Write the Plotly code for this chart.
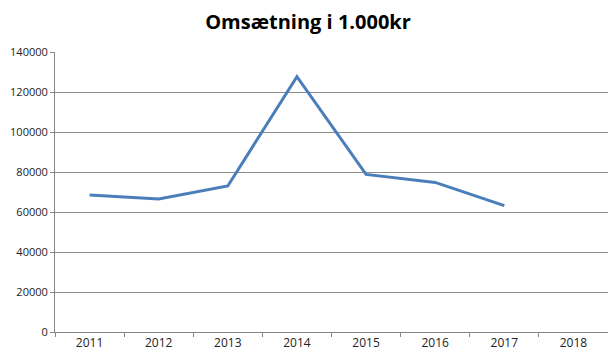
import plotly.graph_objects as go

years = ["2011", "2012", "2013", "2014", "2015", "2016", "2017", "2018"]
omsaetning = [68500, 66500, 73000, 127700, 78800, 74800, 63200, None]
y_ticks = [0, 20000, 40000, 60000, 80000, 100000, 120000, 140000]

fig = go.Figure()
fig.add_trace(go.Scatter(
    x=years, y=omsaetning, mode="lines",
    line=dict(color="#4A7EBB", width=3),
    connectgaps=False, showlegend=False,
))

fig.update_layout(
    width=600, height=345,
    margin=dict(l=47, r=0, t=44, b=21, autoexpand=False),
    paper_bgcolor="white", plot_bgcolor="white",
    title=dict(text="<b>Omsætning i 1.000kr</b>", x=0.5, xanchor="center",
               yref="container", y=0.96, yanchor="middle",
               font=dict(family="Open Sans", size=20, color="#000000")),
    font=dict(family="Open Sans", size=12, color="#222222"),
)
fig.update_xaxes(
    type="category", categoryorder="array", categoryarray=years,
    range=[-0.5, 7.5], showgrid=False, automargin=False,
    showline=True, linecolor="#868686", linewidth=1,
    ticks="outside", tickson="boundaries", ticklen=4, tickcolor="#868686",
    tickfont=dict(size=12), zeroline=False,
)
fig.update_yaxes(
    range=[0, 140000], tickvals=y_ticks, tickformat="d", automargin=False,
    showgrid=True, gridcolor="#8C8C8C", gridwidth=1,
    showline=True, linecolor="#868686", linewidth=1,
    ticks="outside", ticklen=4, tickcolor="#868686",
    tickfont=dict(size=11), zeroline=False,
)

fig.write_html("out.html")
